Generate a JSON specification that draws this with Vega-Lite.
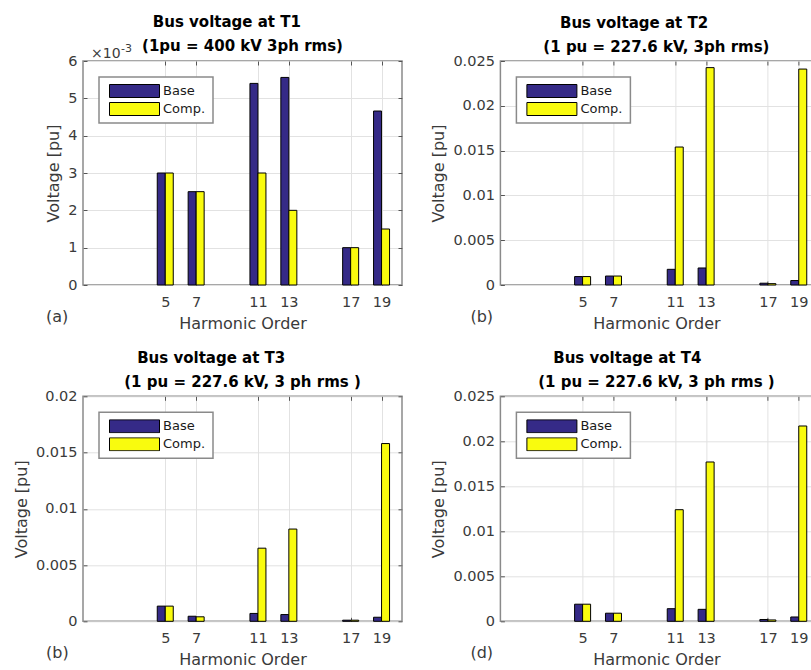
{
  "$schema": "https://vega.github.io/schema/vega-lite/v6.json",
  "padding": {"left": 12, "top": 14, "right": 0, "bottom": 0},
  "datasets": {
    "harm": [
      {"panel": "T1", "h": 5, "series": "Base", "v": 0.003},
      {"panel": "T1", "h": 5, "series": "Comp.", "v": 0.003},
      {"panel": "T1", "h": 7, "series": "Base", "v": 0.0025},
      {"panel": "T1", "h": 7, "series": "Comp.", "v": 0.0025},
      {"panel": "T1", "h": 11, "series": "Base", "v": 0.0054},
      {"panel": "T1", "h": 11, "series": "Comp.", "v": 0.003},
      {"panel": "T1", "h": 13, "series": "Base", "v": 0.00556},
      {"panel": "T1", "h": 13, "series": "Comp.", "v": 0.002},
      {"panel": "T1", "h": 17, "series": "Base", "v": 0.001},
      {"panel": "T1", "h": 17, "series": "Comp.", "v": 0.001},
      {"panel": "T1", "h": 19, "series": "Base", "v": 0.00466},
      {"panel": "T1", "h": 19, "series": "Comp.", "v": 0.0015},
      {"panel": "T2", "h": 5, "series": "Base", "v": 0.00094},
      {"panel": "T2", "h": 5, "series": "Comp.", "v": 0.00094},
      {"panel": "T2", "h": 7, "series": "Base", "v": 0.001},
      {"panel": "T2", "h": 7, "series": "Comp.", "v": 0.001},
      {"panel": "T2", "h": 11, "series": "Base", "v": 0.00175},
      {"panel": "T2", "h": 11, "series": "Comp.", "v": 0.0154},
      {"panel": "T2", "h": 13, "series": "Base", "v": 0.0019},
      {"panel": "T2", "h": 13, "series": "Comp.", "v": 0.02426},
      {"panel": "T2", "h": 17, "series": "Base", "v": 0.0002},
      {"panel": "T2", "h": 17, "series": "Comp.", "v": 0.00015},
      {"panel": "T2", "h": 19, "series": "Base", "v": 0.0005},
      {"panel": "T2", "h": 19, "series": "Comp.", "v": 0.0241},
      {"panel": "T3", "h": 5, "series": "Base", "v": 0.00135},
      {"panel": "T3", "h": 5, "series": "Comp.", "v": 0.00135},
      {"panel": "T3", "h": 7, "series": "Base", "v": 0.00045},
      {"panel": "T3", "h": 7, "series": "Comp.", "v": 0.0004},
      {"panel": "T3", "h": 11, "series": "Base", "v": 0.0007},
      {"panel": "T3", "h": 11, "series": "Comp.", "v": 0.0065},
      {"panel": "T3", "h": 13, "series": "Base", "v": 0.0006},
      {"panel": "T3", "h": 13, "series": "Comp.", "v": 0.0082},
      {"panel": "T3", "h": 17, "series": "Base", "v": 0.0001},
      {"panel": "T3", "h": 17, "series": "Comp.", "v": 0.0001},
      {"panel": "T3", "h": 19, "series": "Base", "v": 0.00036},
      {"panel": "T3", "h": 19, "series": "Comp.", "v": 0.0158},
      {"panel": "T4", "h": 5, "series": "Base", "v": 0.0019},
      {"panel": "T4", "h": 5, "series": "Comp.", "v": 0.0019},
      {"panel": "T4", "h": 7, "series": "Base", "v": 0.0009},
      {"panel": "T4", "h": 7, "series": "Comp.", "v": 0.0009},
      {"panel": "T4", "h": 11, "series": "Base", "v": 0.0014},
      {"panel": "T4", "h": 11, "series": "Comp.", "v": 0.0124},
      {"panel": "T4", "h": 13, "series": "Base", "v": 0.00133},
      {"panel": "T4", "h": 13, "series": "Comp.", "v": 0.0177},
      {"panel": "T4", "h": 17, "series": "Base", "v": 0.0002},
      {"panel": "T4", "h": 17, "series": "Comp.", "v": 0.00015},
      {"panel": "T4", "h": 19, "series": "Base", "v": 0.00048},
      {"panel": "T4", "h": 19, "series": "Comp.", "v": 0.0217}
    ]
  },
  "config": {
    "font": "DejaVu Sans",
    "view": {"stroke": "#8a8a8a", "strokeWidth": 1.5},
    "axis": {
      "domain": false,
      "labelFont": "DejaVu Sans",
      "labelFontSize": 14.5,
      "labelColor": "#3a3a3a",
      "titleFont": "DejaVu Sans",
      "titleFontSize": 16,
      "titleFontWeight": "normal",
      "titleColor": "#3a3a3a",
      "gridColor": "#e2e2e2",
      "gridWidth": 1,
      "tickColor": "#555555",
      "tickSize": -4,
      "tickWidth": 1
    },
    "axisX": {"labelPadding": 14, "titlePadding": 7},
    "axisY": {"labelPadding": 10, "titlePadding": 6},
    "legend": {
      "orient": "top-left",
      "offset": 16,
      "padding": 7,
      "fillColor": "#ffffff",
      "strokeColor": "#8a8a8a",
      "strokeWidth": 1.5,
      "labelFont": "DejaVu Sans",
      "labelFontSize": 13,
      "labelColor": "#1a1a1a",
      "labelOffset": 3,
      "symbolOffset": 3,
      "rowPadding": 4,
      "clipHeight": 14
    },
    "title": {
      "font": "DejaVu Sans",
      "fontSize": 15,
      "fontWeight": "bold",
      "color": "#000000",
      "lineHeight": 24,
      "frame": "group",
      "anchor": "middle",
      "offset": -1.5
    }
  },
  "columns": 2,
  "spacing": {"row": 111.3, "column": 98.4},
  "bounds": "flush",
  "resolve": {
    "scale": {"x": "independent", "y": "independent", "color": "independent"},
    "legend": {"color": "independent"}
  },
  "concat": [
    {
      "width": 319,
      "height": 224,
      "title": {"text": ["Bus voltage at T1\u2007\u2007\u2007\u200b", "(1pu = 400 kV 3ph rms)"], "offset": -11.5},
      "data": {"name": "harm"},
      "transform": [{"filter": "datum.panel === 'T1'"}],
      "layer": [
        {
          "transform": [{"filter": "datum.series === 'Base'"}],
          "mark": {"type": "bar", "size": 8, "xOffset": -4, "stroke": "#000000", "strokeWidth": 1},
          "encoding": {
            "x": {"field": "h", "type": "quantitative", "scale": {"domain": [0, 20], "nice": false, "zero": false},
                  "axis": {"values": [5, 7, 11, 13, 17, 19], "format": "d", "title": "Harmonic Order", "grid": true}},
            "y": {"field": "v", "type": "quantitative", "scale": {"domain": [0, 0.006], "nice": false},
                  "axis": {"values": [0, 0.001, 0.002, 0.003, 0.004, 0.005, 0.006], "labelExpr": "round(datum.value * 1000)", "title": "Voltage [pu]", "grid": true}},
            "color": {"field": "series", "type": "nominal",
                      "scale": {"domain": ["Base", "Comp."], "range": ["#352a87", "#f9fb0e"]},
                      "legend": {"title": null, "symbolType": "M-1,-0.26H1V0.26H-1Z", "symbolSize": 2500, "symbolStrokeColor": "#000000", "symbolStrokeWidth": 1}}
          }
        },
        {
          "transform": [{"filter": "datum.series === 'Comp.'"}],
          "mark": {"type": "bar", "size": 8, "xOffset": 4, "stroke": "#000000", "strokeWidth": 1},
          "encoding": {
            "x": {"field": "h", "type": "quantitative",
                  "axis": {"orient": "top", "values": [5, 7, 11, 13, 17, 19], "labels": false, "grid": false, "title": null, "minExtent": 0}},
            "y": {"field": "v", "type": "quantitative",
                  "axis": {"orient": "right", "values": [0, 0.001, 0.002, 0.003, 0.004, 0.005, 0.006], "labels": false, "grid": false, "title": null, "minExtent": 0}},
            "color": {"field": "series", "type": "nominal",
                      "legend": {"title": null, "symbolType": "M-1,-0.26H1V0.26H-1Z", "symbolSize": 2500, "symbolStrokeColor": "#000000", "symbolStrokeWidth": 1}}
          }
        },
        {
          "data": {"values": [{"tag": "×10"}]},
          "mark": {"type": "text", "align": "left", "baseline": "alphabetic", "dx": 3, "dy": -3, "fontSize": 14, "color": "#3a3a3a"},
          "encoding": {
            "x": {"datum": 0, "type": "quantitative", "axis": null},
            "y": {"datum": 0.006, "type": "quantitative", "axis": null},
            "text": {"field": "tag"}
          }
        },
        {
          "data": {"values": [{"tag": "-3"}]},
          "mark": {"type": "text", "align": "left", "baseline": "alphabetic", "dx": 33, "dy": -9.5, "fontSize": 11, "color": "#3a3a3a"},
          "encoding": {
            "x": {"datum": 0, "type": "quantitative", "axis": null},
            "y": {"datum": 0.006, "type": "quantitative", "axis": null},
            "text": {"field": "tag"}
          }
        },
        {
          "data": {"values": [{"tag": "(a)"}]},
          "mark": {"type": "text", "align": "left", "baseline": "alphabetic", "dx": -42, "dy": 37, "fontSize": 16, "color": "#3a3a3a"},
          "encoding": {
            "x": {"datum": 0, "type": "quantitative", "axis": null},
            "y": {"datum": 0, "type": "quantitative", "axis": null},
            "text": {"field": "tag"}
          }
        }
      ],
      "resolve": {"axis": {"x": "independent", "y": "independent"}}
    },
    {
      "width": 312,
      "height": 224,
      "title": {"text": ["Bus voltage at T2\u2007\u2007\u2007\u2007\u2009\u200b", "(1 pu = 227.6 kV, 3ph rms)"]},
      "data": {"name": "harm"},
      "transform": [{"filter": "datum.panel === 'T2'"}],
      "layer": [
        {
          "transform": [{"filter": "datum.series === 'Base'"}],
          "mark": {"type": "bar", "size": 8, "xOffset": -4, "stroke": "#000000", "strokeWidth": 1},
          "encoding": {
            "x": {"field": "h", "type": "quantitative", "scale": {"domain": [0, 19.56], "nice": false, "zero": false},
                  "axis": {"values": [5, 7, 11, 13, 17, 19], "format": "d", "title": "Harmonic Order", "grid": true}},
            "y": {"field": "v", "type": "quantitative", "scale": {"domain": [0, 0.025], "nice": false},
                  "axis": {"values": [0, 0.005, 0.01, 0.015, 0.02, 0.025], "format": "~g", "title": "Voltage [pu]", "grid": true}},
            "color": {"field": "series", "type": "nominal",
                      "scale": {"domain": ["Base", "Comp."], "range": ["#352a87", "#f9fb0e"]},
                      "legend": {"title": null, "symbolType": "M-1,-0.26H1V0.26H-1Z", "symbolSize": 2500, "symbolStrokeColor": "#000000", "symbolStrokeWidth": 1}}
          }
        },
        {
          "transform": [{"filter": "datum.series === 'Comp.'"}],
          "mark": {"type": "bar", "size": 8, "xOffset": 4, "stroke": "#000000", "strokeWidth": 1},
          "encoding": {
            "x": {"field": "h", "type": "quantitative",
                  "axis": {"orient": "top", "values": [5, 7, 11, 13, 17, 19], "labels": false, "grid": false, "title": null, "minExtent": 0}},
            "y": {"field": "v", "type": "quantitative", "axis": null},
            "color": {"field": "series", "type": "nominal",
                      "legend": {"title": null, "symbolType": "M-1,-0.26H1V0.26H-1Z", "symbolSize": 2500, "symbolStrokeColor": "#000000", "symbolStrokeWidth": 1}}
          }
        },
        {
          "data": {"values": [{"tag": "(b)"}]},
          "mark": {"type": "text", "align": "left", "baseline": "alphabetic", "dx": -35, "dy": 37, "fontSize": 16, "color": "#3a3a3a"},
          "encoding": {
            "x": {"datum": 0, "type": "quantitative", "axis": null},
            "y": {"datum": 0, "type": "quantitative", "axis": null},
            "text": {"field": "tag"}
          }
        }
      ],
      "resolve": {"axis": {"x": "independent", "y": "independent"}}
    },
    {
      "width": 319,
      "height": 225,
      "title": {"text": ["Bus voltage at T3\u2007\u2007\u2007\u2007\u2007\u2007\u200b", "(1 pu = 227.6 kV, 3 ph rms )"]},
      "data": {"name": "harm"},
      "transform": [{"filter": "datum.panel === 'T3'"}],
      "layer": [
        {
          "transform": [{"filter": "datum.series === 'Base'"}],
          "mark": {"type": "bar", "size": 8, "xOffset": -4, "stroke": "#000000", "strokeWidth": 1},
          "encoding": {
            "x": {"field": "h", "type": "quantitative", "scale": {"domain": [0, 20], "nice": false, "zero": false},
                  "axis": {"values": [5, 7, 11, 13, 17, 19], "format": "d", "title": "Harmonic Order", "grid": true}},
            "y": {"field": "v", "type": "quantitative", "scale": {"domain": [0, 0.02], "nice": false},
                  "axis": {"values": [0, 0.005, 0.01, 0.015, 0.02], "format": "~g", "title": "Voltage [pu]", "grid": true}},
            "color": {"field": "series", "type": "nominal",
                      "scale": {"domain": ["Base", "Comp."], "range": ["#352a87", "#f9fb0e"]},
                      "legend": {"title": null, "symbolType": "M-1,-0.26H1V0.26H-1Z", "symbolSize": 2500, "symbolStrokeColor": "#000000", "symbolStrokeWidth": 1}}
          }
        },
        {
          "transform": [{"filter": "datum.series === 'Comp.'"}],
          "mark": {"type": "bar", "size": 8, "xOffset": 4, "stroke": "#000000", "strokeWidth": 1},
          "encoding": {
            "x": {"field": "h", "type": "quantitative",
                  "axis": {"orient": "top", "values": [5, 7, 11, 13, 17, 19], "labels": false, "grid": false, "title": null, "minExtent": 0}},
            "y": {"field": "v", "type": "quantitative",
                  "axis": {"orient": "right", "values": [0, 0.005, 0.01, 0.015, 0.02], "labels": false, "grid": false, "title": null, "minExtent": 0}},
            "color": {"field": "series", "type": "nominal",
                      "legend": {"title": null, "symbolType": "M-1,-0.26H1V0.26H-1Z", "symbolSize": 2500, "symbolStrokeColor": "#000000", "symbolStrokeWidth": 1}}
          }
        },
        {
          "data": {"values": [{"tag": "(b)"}]},
          "mark": {"type": "text", "align": "left", "baseline": "alphabetic", "dx": -42, "dy": 37, "fontSize": 16, "color": "#3a3a3a"},
          "encoding": {
            "x": {"datum": 0, "type": "quantitative", "axis": null},
            "y": {"datum": 0, "type": "quantitative", "axis": null},
            "text": {"field": "tag"}
          }
        }
      ],
      "resolve": {"axis": {"x": "independent", "y": "independent"}}
    },
    {
      "width": 312,
      "height": 225,
      "title": {"text": ["Bus voltage at T4\u2007\u2007\u2007\u2007\u2007\u2009\u2009\u200b", "(1 pu = 227.6 kV, 3 ph rms )"]},
      "data": {"name": "harm"},
      "transform": [{"filter": "datum.panel === 'T4'"}],
      "layer": [
        {
          "transform": [{"filter": "datum.series === 'Base'"}],
          "mark": {"type": "bar", "size": 8, "xOffset": -4, "stroke": "#000000", "strokeWidth": 1},
          "encoding": {
            "x": {"field": "h", "type": "quantitative", "scale": {"domain": [0, 19.56], "nice": false, "zero": false},
                  "axis": {"values": [5, 7, 11, 13, 17, 19], "format": "d", "title": "Harmonic Order", "grid": true}},
            "y": {"field": "v", "type": "quantitative", "scale": {"domain": [0, 0.025], "nice": false},
                  "axis": {"values": [0, 0.005, 0.01, 0.015, 0.02, 0.025], "format": "~g", "title": "Voltage [pu]", "grid": true}},
            "color": {"field": "series", "type": "nominal",
                      "scale": {"domain": ["Base", "Comp."], "range": ["#352a87", "#f9fb0e"]},
                      "legend": {"title": null, "symbolType": "M-1,-0.26H1V0.26H-1Z", "symbolSize": 2500, "symbolStrokeColor": "#000000", "symbolStrokeWidth": 1}}
          }
        },
        {
          "transform": [{"filter": "datum.series === 'Comp.'"}],
          "mark": {"type": "bar", "size": 8, "xOffset": 4, "stroke": "#000000", "strokeWidth": 1},
          "encoding": {
            "x": {"field": "h", "type": "quantitative",
                  "axis": {"orient": "top", "values": [5, 7, 11, 13, 17, 19], "labels": false, "grid": false, "title": null, "minExtent": 0}},
            "y": {"field": "v", "type": "quantitative", "axis": null},
            "color": {"field": "series", "type": "nominal",
                      "legend": {"title": null, "symbolType": "M-1,-0.26H1V0.26H-1Z", "symbolSize": 2500, "symbolStrokeColor": "#000000", "symbolStrokeWidth": 1}}
          }
        },
        {
          "data": {"values": [{"tag": "(d)"}]},
          "mark": {"type": "text", "align": "left", "baseline": "alphabetic", "dx": -35, "dy": 37, "fontSize": 16, "color": "#3a3a3a"},
          "encoding": {
            "x": {"datum": 0, "type": "quantitative", "axis": null},
            "y": {"datum": 0, "type": "quantitative", "axis": null},
            "text": {"field": "tag"}
          }
        }
      ],
      "resolve": {"axis": {"x": "independent", "y": "independent"}}
    }
  ]
}
